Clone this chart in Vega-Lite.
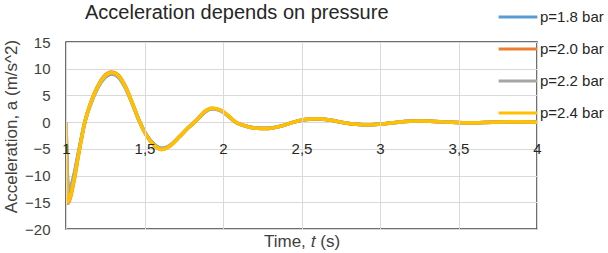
{
  "$schema": "https://vega.github.io/schema/vega-lite/v6.json",
  "autosize": "none",
  "width": 471,
  "height": 187,
  "padding": {"left": 66, "top": 42, "right": 71, "bottom": 24},
  "background": "white",
  "config": {
    "view": {"stroke": "#404040", "strokeWidth": 1.5},
    "font": "Liberation Sans"
  },
  "title": {
    "text": "Acceleration depends on pressure",
    "anchor": "start",
    "frame": "group",
    "dx": 19,
    "dy": 27,
    "offset": 0,
    "fontSize": 20,
    "fontWeight": "normal",
    "color": "#262626",
    "font": "Liberation Sans"
  },
  "data": {
    "values": [
      {"t": 1.00, "a": 0, "p": "p=1.8 bar"},
      {"t": 1.015, "a": -13.0, "p": "p=1.8 bar"},
      {"t": 1.05, "a": -10.0, "p": "p=1.8 bar"},
      {"t": 1.08, "a": -5.6, "p": "p=1.8 bar"},
      {"t": 1.12, "a": 0, "p": "p=1.8 bar"},
      {"t": 1.16, "a": 3.6, "p": "p=1.8 bar"},
      {"t": 1.20, "a": 6.3, "p": "p=1.8 bar"},
      {"t": 1.25, "a": 8.4, "p": "p=1.8 bar"},
      {"t": 1.29, "a": 9.0, "p": "p=1.8 bar"},
      {"t": 1.33, "a": 8.5, "p": "p=1.8 bar"},
      {"t": 1.38, "a": 6.3, "p": "p=1.8 bar"},
      {"t": 1.43, "a": 2.9, "p": "p=1.8 bar"},
      {"t": 1.47, "a": 0, "p": "p=1.8 bar"},
      {"t": 1.51, "a": -2.3, "p": "p=1.8 bar"},
      {"t": 1.56, "a": -4.1, "p": "p=1.8 bar"},
      {"t": 1.61, "a": -4.9, "p": "p=1.8 bar"},
      {"t": 1.66, "a": -4.4, "p": "p=1.8 bar"},
      {"t": 1.72, "a": -2.8, "p": "p=1.8 bar"},
      {"t": 1.78, "a": -1.0, "p": "p=1.8 bar"},
      {"t": 1.83, "a": 0.3, "p": "p=1.8 bar"},
      {"t": 1.88, "a": 1.8, "p": "p=1.8 bar"},
      {"t": 1.93, "a": 2.5, "p": "p=1.8 bar"},
      {"t": 1.98, "a": 2.2, "p": "p=1.8 bar"},
      {"t": 2.03, "a": 1.2, "p": "p=1.8 bar"},
      {"t": 2.08, "a": 0, "p": "p=1.8 bar"},
      {"t": 2.13, "a": -0.6, "p": "p=1.8 bar"},
      {"t": 2.20, "a": -1.05, "p": "p=1.8 bar"},
      {"t": 2.28, "a": -1.15, "p": "p=1.8 bar"},
      {"t": 2.36, "a": -0.8, "p": "p=1.8 bar"},
      {"t": 2.45, "a": 0, "p": "p=1.8 bar"},
      {"t": 2.52, "a": 0.45, "p": "p=1.8 bar"},
      {"t": 2.60, "a": 0.6, "p": "p=1.8 bar"},
      {"t": 2.68, "a": 0.4, "p": "p=1.8 bar"},
      {"t": 2.77, "a": -0.1, "p": "p=1.8 bar"},
      {"t": 2.85, "a": -0.4, "p": "p=1.8 bar"},
      {"t": 2.93, "a": -0.5, "p": "p=1.8 bar"},
      {"t": 3.02, "a": -0.35, "p": "p=1.8 bar"},
      {"t": 3.12, "a": 0, "p": "p=1.8 bar"},
      {"t": 3.25, "a": 0.2, "p": "p=1.8 bar"},
      {"t": 3.40, "a": 0.05, "p": "p=1.8 bar"},
      {"t": 3.57, "a": -0.12, "p": "p=1.8 bar"},
      {"t": 3.72, "a": 0, "p": "p=1.8 bar"},
      {"t": 3.88, "a": 0.06, "p": "p=1.8 bar"},
      {"t": 4.00, "a": 0, "p": "p=1.8 bar"},

      {"t": 1.00, "a": 0, "p": "p=2.0 bar"},
      {"t": 1.01, "a": -15.2, "p": "p=2.0 bar"},
      {"t": 1.05, "a": -11.2, "p": "p=2.0 bar"},
      {"t": 1.08, "a": -6.1, "p": "p=2.0 bar"},
      {"t": 1.12, "a": 0, "p": "p=2.0 bar"},
      {"t": 1.16, "a": 3.9, "p": "p=2.0 bar"},
      {"t": 1.20, "a": 6.6, "p": "p=2.0 bar"},
      {"t": 1.25, "a": 8.8, "p": "p=2.0 bar"},
      {"t": 1.29, "a": 9.4, "p": "p=2.0 bar"},
      {"t": 1.33, "a": 8.9, "p": "p=2.0 bar"},
      {"t": 1.38, "a": 6.6, "p": "p=2.0 bar"},
      {"t": 1.43, "a": 3.0, "p": "p=2.0 bar"},
      {"t": 1.47, "a": 0, "p": "p=2.0 bar"},
      {"t": 1.51, "a": -2.4, "p": "p=2.0 bar"},
      {"t": 1.56, "a": -4.3, "p": "p=2.0 bar"},
      {"t": 1.61, "a": -5.1, "p": "p=2.0 bar"},
      {"t": 1.66, "a": -4.5, "p": "p=2.0 bar"},
      {"t": 1.72, "a": -2.8, "p": "p=2.0 bar"},
      {"t": 1.78, "a": -1.0, "p": "p=2.0 bar"},
      {"t": 1.83, "a": 0.3, "p": "p=2.0 bar"},
      {"t": 1.88, "a": 1.9, "p": "p=2.0 bar"},
      {"t": 1.93, "a": 2.6, "p": "p=2.0 bar"},
      {"t": 1.98, "a": 2.3, "p": "p=2.0 bar"},
      {"t": 2.03, "a": 1.3, "p": "p=2.0 bar"},
      {"t": 2.08, "a": 0, "p": "p=2.0 bar"},
      {"t": 2.13, "a": -0.6, "p": "p=2.0 bar"},
      {"t": 2.20, "a": -1.1, "p": "p=2.0 bar"},
      {"t": 2.28, "a": -1.2, "p": "p=2.0 bar"},
      {"t": 2.36, "a": -0.8, "p": "p=2.0 bar"},
      {"t": 2.45, "a": 0, "p": "p=2.0 bar"},
      {"t": 2.52, "a": 0.5, "p": "p=2.0 bar"},
      {"t": 2.60, "a": 0.65, "p": "p=2.0 bar"},
      {"t": 2.68, "a": 0.4, "p": "p=2.0 bar"},
      {"t": 2.77, "a": -0.1, "p": "p=2.0 bar"},
      {"t": 2.85, "a": -0.4, "p": "p=2.0 bar"},
      {"t": 2.93, "a": -0.5, "p": "p=2.0 bar"},
      {"t": 3.02, "a": -0.35, "p": "p=2.0 bar"},
      {"t": 3.12, "a": 0, "p": "p=2.0 bar"},
      {"t": 3.25, "a": 0.2, "p": "p=2.0 bar"},
      {"t": 3.40, "a": 0.05, "p": "p=2.0 bar"},
      {"t": 3.57, "a": -0.12, "p": "p=2.0 bar"},
      {"t": 3.72, "a": 0, "p": "p=2.0 bar"},
      {"t": 3.88, "a": 0.06, "p": "p=2.0 bar"},
      {"t": 4.00, "a": 0, "p": "p=2.0 bar"},

      {"t": 1.00, "a": 0, "p": "p=2.2 bar"},
      {"t": 1.015, "a": -12.8, "p": "p=2.2 bar"},
      {"t": 1.05, "a": -10.2, "p": "p=2.2 bar"},
      {"t": 1.08, "a": -5.7, "p": "p=2.2 bar"},
      {"t": 1.12, "a": 0, "p": "p=2.2 bar"},
      {"t": 1.16, "a": 3.7, "p": "p=2.2 bar"},
      {"t": 1.20, "a": 6.4, "p": "p=2.2 bar"},
      {"t": 1.25, "a": 8.6, "p": "p=2.2 bar"},
      {"t": 1.29, "a": 9.1, "p": "p=2.2 bar"},
      {"t": 1.33, "a": 8.6, "p": "p=2.2 bar"},
      {"t": 1.38, "a": 6.4, "p": "p=2.2 bar"},
      {"t": 1.43, "a": 2.9, "p": "p=2.2 bar"},
      {"t": 1.47, "a": 0, "p": "p=2.2 bar"},
      {"t": 1.51, "a": -2.3, "p": "p=2.2 bar"},
      {"t": 1.56, "a": -4.2, "p": "p=2.2 bar"},
      {"t": 1.61, "a": -5.0, "p": "p=2.2 bar"},
      {"t": 1.66, "a": -4.4, "p": "p=2.2 bar"},
      {"t": 1.72, "a": -2.8, "p": "p=2.2 bar"},
      {"t": 1.78, "a": -1.0, "p": "p=2.2 bar"},
      {"t": 1.83, "a": 0.3, "p": "p=2.2 bar"},
      {"t": 1.88, "a": 1.8, "p": "p=2.2 bar"},
      {"t": 1.93, "a": 2.5, "p": "p=2.2 bar"},
      {"t": 1.98, "a": 2.2, "p": "p=2.2 bar"},
      {"t": 2.03, "a": 1.25, "p": "p=2.2 bar"},
      {"t": 2.08, "a": 0, "p": "p=2.2 bar"},
      {"t": 2.13, "a": -0.6, "p": "p=2.2 bar"},
      {"t": 2.20, "a": -1.1, "p": "p=2.2 bar"},
      {"t": 2.28, "a": -1.2, "p": "p=2.2 bar"},
      {"t": 2.36, "a": -0.8, "p": "p=2.2 bar"},
      {"t": 2.45, "a": 0, "p": "p=2.2 bar"},
      {"t": 2.52, "a": 0.5, "p": "p=2.2 bar"},
      {"t": 2.60, "a": 0.62, "p": "p=2.2 bar"},
      {"t": 2.68, "a": 0.4, "p": "p=2.2 bar"},
      {"t": 2.77, "a": -0.1, "p": "p=2.2 bar"},
      {"t": 2.85, "a": -0.4, "p": "p=2.2 bar"},
      {"t": 2.93, "a": -0.5, "p": "p=2.2 bar"},
      {"t": 3.02, "a": -0.35, "p": "p=2.2 bar"},
      {"t": 3.12, "a": 0, "p": "p=2.2 bar"},
      {"t": 3.25, "a": 0.2, "p": "p=2.2 bar"},
      {"t": 3.40, "a": 0.05, "p": "p=2.2 bar"},
      {"t": 3.57, "a": -0.12, "p": "p=2.2 bar"},
      {"t": 3.72, "a": 0, "p": "p=2.2 bar"},
      {"t": 3.88, "a": 0.06, "p": "p=2.2 bar"},
      {"t": 4.00, "a": 0, "p": "p=2.2 bar"},

      {"t": 1.00, "a": 0, "p": "p=2.4 bar"},
      {"t": 1.01, "a": -15.0, "p": "p=2.4 bar"},
      {"t": 1.05, "a": -11.0, "p": "p=2.4 bar"},
      {"t": 1.08, "a": -6.0, "p": "p=2.4 bar"},
      {"t": 1.12, "a": 0, "p": "p=2.4 bar"},
      {"t": 1.16, "a": 3.8, "p": "p=2.4 bar"},
      {"t": 1.20, "a": 6.5, "p": "p=2.4 bar"},
      {"t": 1.25, "a": 8.7, "p": "p=2.4 bar"},
      {"t": 1.29, "a": 9.3, "p": "p=2.4 bar"},
      {"t": 1.33, "a": 8.8, "p": "p=2.4 bar"},
      {"t": 1.38, "a": 6.5, "p": "p=2.4 bar"},
      {"t": 1.43, "a": 3.0, "p": "p=2.4 bar"},
      {"t": 1.47, "a": 0, "p": "p=2.4 bar"},
      {"t": 1.51, "a": -2.4, "p": "p=2.4 bar"},
      {"t": 1.56, "a": -4.3, "p": "p=2.4 bar"},
      {"t": 1.61, "a": -5.1, "p": "p=2.4 bar"},
      {"t": 1.66, "a": -4.5, "p": "p=2.4 bar"},
      {"t": 1.72, "a": -2.8, "p": "p=2.4 bar"},
      {"t": 1.78, "a": -1.0, "p": "p=2.4 bar"},
      {"t": 1.83, "a": 0.3, "p": "p=2.4 bar"},
      {"t": 1.88, "a": 1.9, "p": "p=2.4 bar"},
      {"t": 1.93, "a": 2.6, "p": "p=2.4 bar"},
      {"t": 1.98, "a": 2.3, "p": "p=2.4 bar"},
      {"t": 2.03, "a": 1.3, "p": "p=2.4 bar"},
      {"t": 2.08, "a": 0, "p": "p=2.4 bar"},
      {"t": 2.13, "a": -0.6, "p": "p=2.4 bar"},
      {"t": 2.20, "a": -1.1, "p": "p=2.4 bar"},
      {"t": 2.28, "a": -1.2, "p": "p=2.4 bar"},
      {"t": 2.36, "a": -0.8, "p": "p=2.4 bar"},
      {"t": 2.45, "a": 0, "p": "p=2.4 bar"},
      {"t": 2.52, "a": 0.5, "p": "p=2.4 bar"},
      {"t": 2.60, "a": 0.65, "p": "p=2.4 bar"},
      {"t": 2.68, "a": 0.4, "p": "p=2.4 bar"},
      {"t": 2.77, "a": -0.1, "p": "p=2.4 bar"},
      {"t": 2.85, "a": -0.4, "p": "p=2.4 bar"},
      {"t": 2.93, "a": -0.5, "p": "p=2.4 bar"},
      {"t": 3.02, "a": -0.35, "p": "p=2.4 bar"},
      {"t": 3.12, "a": 0, "p": "p=2.4 bar"},
      {"t": 3.25, "a": 0.2, "p": "p=2.4 bar"},
      {"t": 3.40, "a": 0.05, "p": "p=2.4 bar"},
      {"t": 3.57, "a": -0.12, "p": "p=2.4 bar"},
      {"t": 3.72, "a": 0, "p": "p=2.4 bar"},
      {"t": 3.88, "a": 0.06, "p": "p=2.4 bar"},
      {"t": 4.00, "a": 0, "p": "p=2.4 bar"}
    ]
  },
  "mark": {"type": "line", "interpolate": "monotone", "strokeWidth": 3.5, "clip": true},
  "encoding": {
    "x": {
      "field": "t",
      "type": "quantitative",
      "scale": {"domain": [1, 4], "nice": false, "zero": false},
      "axis": {
        "values": [1, 1.5, 2, 2.5, 3, 3.5, 4],
        "labelExpr": "replace(format(datum.value, '~g'), '.', ',')",
        "offset": -90,
        "zindex": 1,
        "domain": false,
        "ticks": false,
        "labelPadding": 2,
        "labelFlush": false,
        "labelFontSize": 15,
        "labelColor": "#262626",
        "labelFont": "Liberation Sans",
        "grid": true,
        "gridColor": "#d9d9d9",
        "gridWidth": 1,
        "title": "Time, 𝑡 (s)",
        "titleY": 94,
        "titleFontSize": 17,
        "titleFontWeight": "normal",
        "titleColor": "#404040",
        "titleFont": "Liberation Sans"
      }
    },
    "y": {
      "field": "a",
      "type": "quantitative",
      "scale": {"domain": [-20, 15], "nice": false},
      "axis": {
        "values": [-20, -15, -10, -5, 0, 5, 10, 15],
        "domain": false,
        "ticks": false,
        "labelPadding": 16,
        "labelFontSize": 15,
        "labelColor": "#404040",
        "labelFont": "Liberation Sans",
        "grid": true,
        "gridColor": "#d9d9d9",
        "gridWidth": 1,
        "title": "Acceleration, a (m/s^2)",
        "titlePadding": 4,
        "titleY": 84,
        "titleFontSize": 17,
        "titleFontWeight": "normal",
        "titleColor": "#404040",
        "titleFont": "Liberation Sans"
      }
    },
    "color": {
      "field": "p",
      "type": "nominal",
      "scale": {
        "domain": ["p=1.8 bar", "p=2.0 bar", "p=2.2 bar", "p=2.4 bar"],
        "range": ["#5B9BD5", "#ED7D31", "#A5A5A5", "#FFC000"]
      },
      "legend": {
        "orient": "none",
        "legendX": 431,
        "legendY": -46,
        "title": null,
        "symbolType": "stroke",
        "symbolSize": 1500,
        "symbolStrokeWidth": 3,
        "rowPadding": 3,
        "labelFontSize": 15,
        "labelFont": "Liberation Sans",
        "labelColor": "#262626",
        "labelOffset": 1,
        "padding": 0
      }
    }
  }
}
